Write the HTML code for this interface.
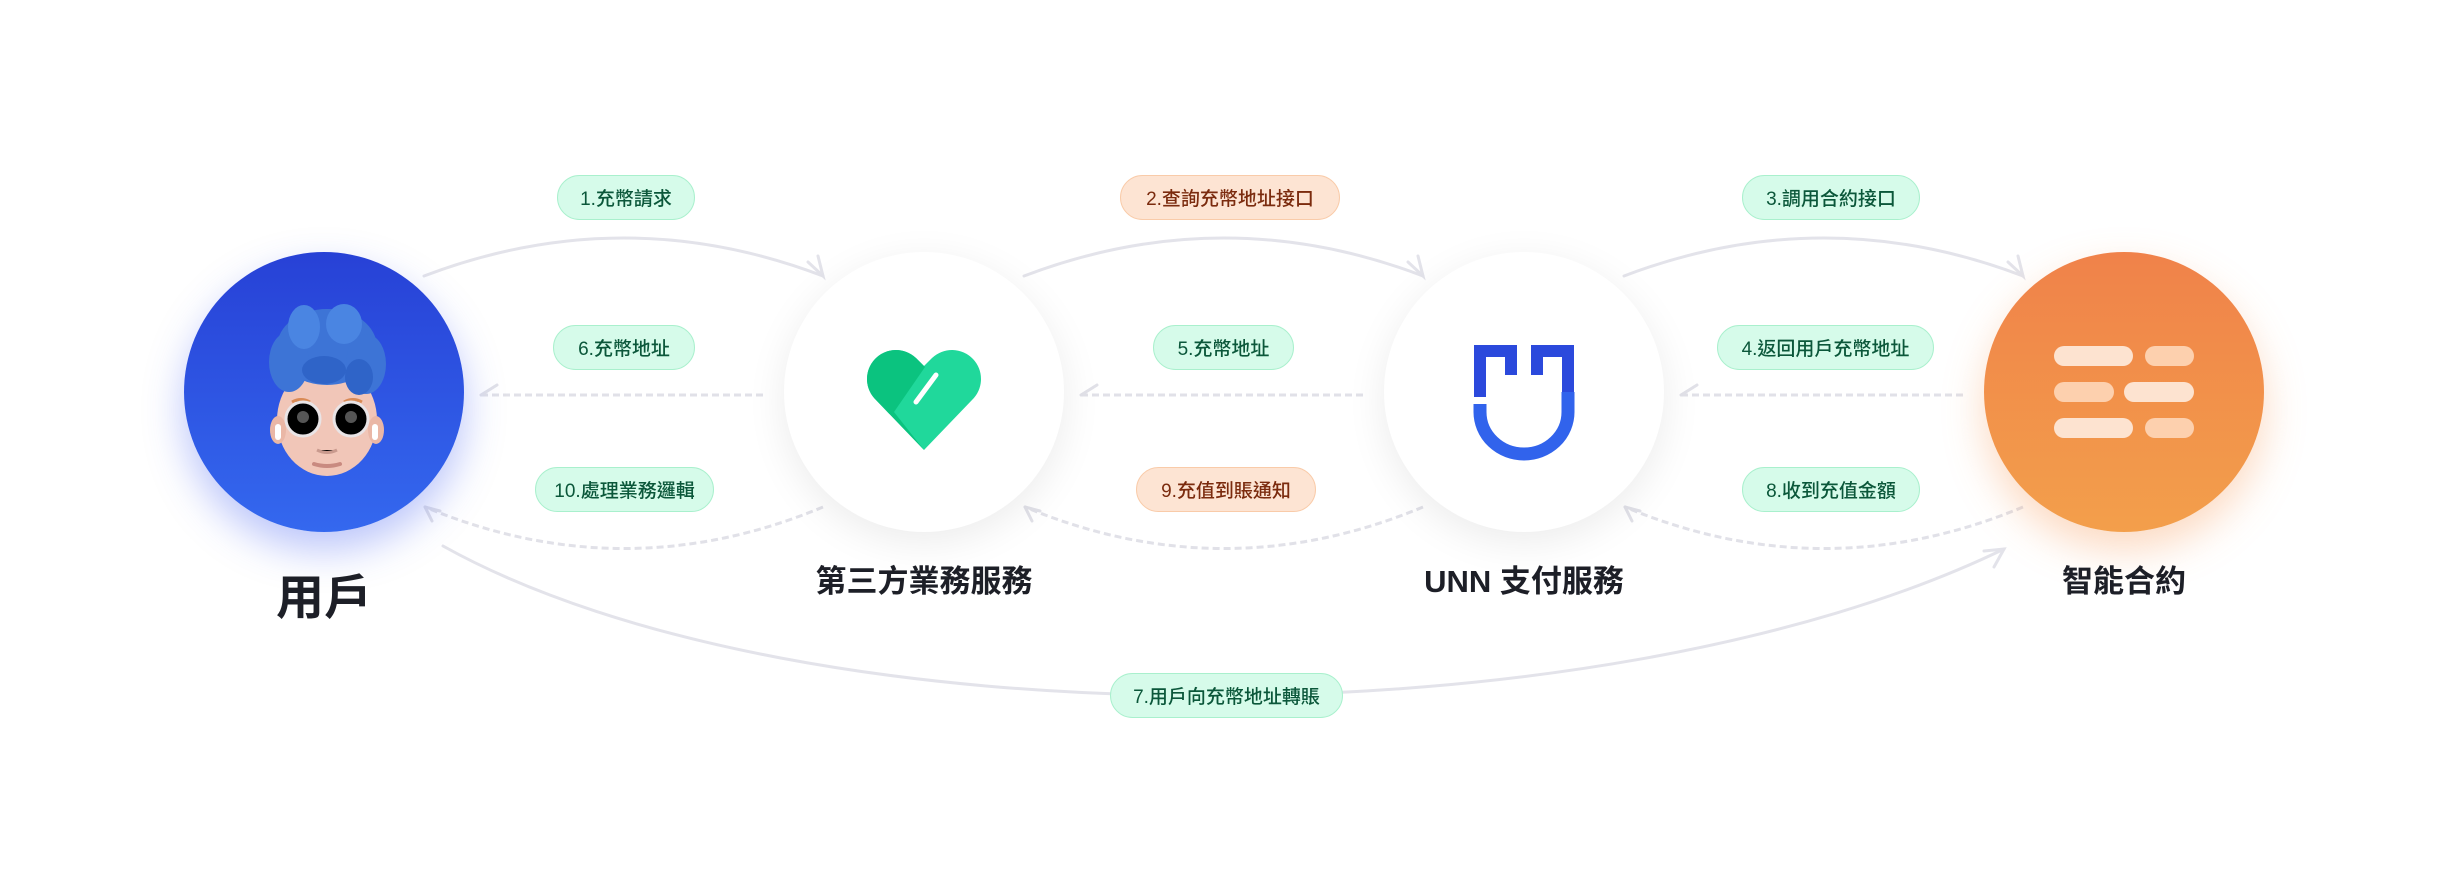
<!DOCTYPE html>
<html><head><meta charset="utf-8"><style>
html,body{margin:0;padding:0;background:#fff;}
body{width:2448px;height:880px;position:relative;overflow:hidden;font-family:"Liberation Sans","Noto Sans CJK TC",sans-serif;}
.c{position:absolute;width:280px;height:280px;border-radius:50%;top:252px;}
.w{background:#fff;box-shadow:0 10px 40px rgba(0,0,0,0.08);}
.pill{position:absolute;height:45px;border-radius:24px;font-size:19px;font-weight:500;display:flex;align-items:center;justify-content:center;box-sizing:border-box;font-family:"Liberation Sans","Noto Sans CJK TC",sans-serif;}
.g{background:#d6fbea;border:1.5px solid #a9f0cd;color:#0b573a;}
.o{background:#fde4d3;border:1.5px solid #f9cba9;color:#7b2b0e;}
.lab{position:absolute;font-weight:700;color:#1d1f27;text-align:center;font-family:"Liberation Sans","Noto Sans CJK TC",sans-serif;}
</style></head><body>
<svg width="2448" height="880" style="position:absolute;left:0;top:0" fill="none">
<g stroke="#e3e3ea" stroke-width="3" stroke-linecap="round">
<path d="M424,276 Q624,200 823,276"/><path d="M808,262 L823,276 L818,256"/>
<path d="M1024,276 Q1224,200 1423,276"/><path d="M1408,262 L1423,276 L1418,256"/>
<path d="M1624,276 Q1824,200 2023,276"/><path d="M2008,262 L2023,276 L2018,256"/>
<path d="M443,546 C800,745 1600,745 2004,549"/><path d="M1984,551 L2004,549 L1994,567"/>
</g>
<g stroke="#e1e1e8" stroke-width="3" stroke-dasharray="7 4">
<path d="M481,395 H765"/><path d="M1081,395 H1365"/><path d="M1681,395 H1965"/>
<path d="M823,507 Q624,590 425,507"/><path d="M1423,507 Q1224,590 1025,507"/><path d="M2023,507 Q1824,590 1625,507"/>
</g>
<g stroke="#e1e1e8" stroke-width="3" stroke-linecap="round">
<path d="M481,395 L497,385"/><path d="M1081,395 L1097,385"/><path d="M1681,395 L1697,385"/>
<path d="M425,507 L440,511"/><path d="M425,507 L432,521"/>
<path d="M1025,507 L1040,511"/><path d="M1025,507 L1032,521"/>
<path d="M1625,507 L1640,511"/><path d="M1625,507 L1632,521"/>
</g>
</svg>

<div class="c" style="left:184px;background:linear-gradient(#2741d6,#3468ef);box-shadow:0 18px 40px rgba(60,90,240,0.35);">
<svg width="280" height="280" style="position:absolute;left:0;top:0">
<ellipse cx="143" cy="168" rx="50" ry="56" fill="#f1c6b8"/>
<ellipse cx="94" cy="178" rx="8" ry="14" fill="#eab7a6"/><ellipse cx="192" cy="178" rx="8" ry="14" fill="#eab7a6"/>
<rect x="91" y="172" width="6" height="16" rx="3" fill="#fff"/><rect x="188" y="172" width="6" height="16" rx="3" fill="#fff"/>
<g fill="#3d74d6">
<ellipse cx="143" cy="95" rx="50" ry="38"/>
<ellipse cx="105" cy="110" rx="20" ry="30"/><ellipse cx="182" cy="112" rx="20" ry="30"/>
<ellipse cx="120" cy="75" rx="16" ry="22" fill="#4a85e2"/><ellipse cx="160" cy="72" rx="18" ry="20" fill="#4a85e2"/>
<ellipse cx="140" cy="118" rx="22" ry="14" fill="#2f64c8"/><ellipse cx="175" cy="125" rx="14" ry="18" fill="#2f64c8"/>
</g>
<path d="M108,150 Q117,145 126,150 M160,150 Q169,145 178,150" stroke="#d98a55" stroke-width="3"/>
<circle cx="119" cy="167" r="17" stroke="#e9e4e6" stroke-width="3"/><circle cx="167" cy="167" r="17" stroke="#e9e4e6" stroke-width="3"/>
<circle cx="119" cy="165" r="6" fill="#555"/><circle cx="167" cy="165" r="6" fill="#555"/>
<path d="M133,198 Q143,203 153,198" stroke="#c99a8e" stroke-width="3"/>
<path d="M130,212 Q143,216 156,212" stroke="#c98a80" stroke-width="4" stroke-linecap="round"/>
</svg></div>
<div class="c w" style="left:784px;">
<svg width="280" height="280" style="position:absolute;left:0;top:0">
<path d="M140,198 L92,148 A28,28 0 0 1 132,106 L140,114 L148,106 A28,28 0 0 1 188,148 Z" fill="#20d89b"/>
<path d="M140,198 L92,148 A28,28 0 0 1 132,106 L141,115 L110,160 Z" fill="#0bc37f"/>
<path d="M152,123 L132,150" stroke="#fff" stroke-width="5" stroke-linecap="round"/>
</svg></div>
<div class="c w" style="left:1384px;">
<svg width="280" height="280" style="position:absolute;left:0;top:0">
<g fill="#2b49dc">
<path d="M90,93 H133 V123 H121 V105 H102 V145 H90 Z"/>
<path d="M190,93 H147 V123 H159 V105 H178 V145 H190 Z"/>
</g>
<path d="M96,152 V160 A44,42 0 0 0 184,160 V140" stroke="#3163ec" stroke-width="13" fill="none"/>
</svg></div>
<div class="c" style="left:1984px;background:linear-gradient(#f0824a,#f39f4b);box-shadow:0 18px 40px rgba(245,150,80,0.35);">
<svg width="280" height="280" style="position:absolute;left:0;top:0">
<rect x="70" y="94" width="79" height="20" rx="10" fill="#fde3d0"/><rect x="161" y="94" width="49" height="20" rx="10" fill="#fdd0ae"/>
<rect x="70" y="130" width="60" height="20" rx="10" fill="#fdd0ae"/><rect x="140" y="130" width="70" height="20" rx="10" fill="#fde3d0"/>
<rect x="70" y="166" width="79" height="20" rx="10" fill="#fde3d0"/><rect x="161" y="166" width="49" height="20" rx="10" fill="#fdd0ae"/>
</svg></div>

<div class="lab" style="left:224px;width:200px;top:558px;font-size:48px;">用戶</div>
<div class="lab" style="left:774px;width:300px;top:556px;font-size:31px;">第三方業務服務</div>
<div class="lab" style="left:1374px;width:300px;top:556px;font-size:31px;">UNN 支付服務</div>
<div class="lab" style="left:1974px;width:300px;top:556px;font-size:31px;">智能合約</div>

<div class="pill g" style="left:557px;top:175px;width:138px;">1.充幣請求</div>
<div class="pill g" style="left:553px;top:325px;width:142px;">6.充幣地址</div>
<div class="pill g" style="left:535px;top:467px;width:179px;">10.處理業務邏輯</div>
<div class="pill o" style="left:1120px;top:175px;width:220px;">2.查詢充幣地址接口</div>
<div class="pill g" style="left:1153px;top:325px;width:141px;">5.充幣地址</div>
<div class="pill o" style="left:1136px;top:467px;width:180px;">9.充值到賬通知</div>
<div class="pill g" style="left:1742px;top:175px;width:178px;">3.調用合約接口</div>
<div class="pill g" style="left:1717px;top:325px;width:217px;">4.返回用戶充幣地址</div>
<div class="pill g" style="left:1742px;top:467px;width:178px;">8.收到充值金額</div>
<div class="pill g" style="left:1110px;top:673px;width:233px;">7.用戶向充幣地址轉賬</div>
</body></html>
